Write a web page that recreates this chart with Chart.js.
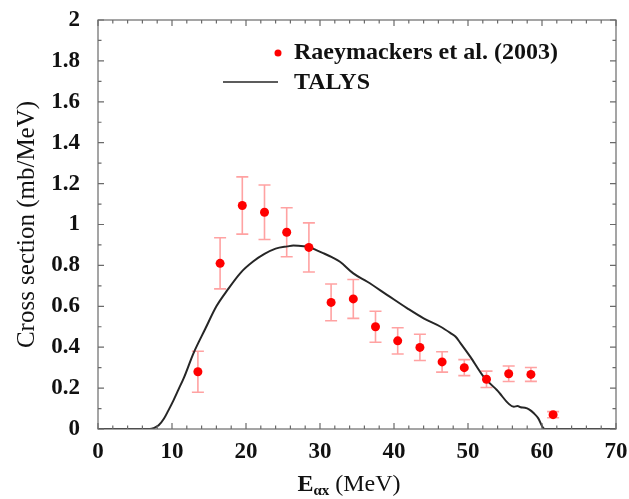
<!DOCTYPE html>
<html>
<head>
<meta charset="utf-8">
<script src="https://cdn.jsdelivr.net/npm/chart.js@4/dist/chart.umd.min.js"></script>
<style>
  html, body { margin: 0; padding: 0; background: #fff; }
  #wrap { width: 629px; height: 499px; position: relative; }
</style>
</head>
<body>
<div id="wrap"><canvas id="xsChart"></canvas></div>
<script>
// ── alpha emission spectrum: data vs TALYS ──

// measured points (Raeymackers et al. 2003)
const expE     = [13.5, 16.5, 19.5, 22.5, 25.5, 28.5, 31.5, 34.5, 37.5, 40.5, 43.5, 46.5, 49.5, 52.5, 55.5, 58.5, 61.5];
const expSigma = [0.28, 0.81, 1.093, 1.06, 0.962, 0.888, 0.619, 0.636, 0.50, 0.431, 0.399, 0.328, 0.30, 0.243, 0.27, 0.267, 0.07];
const expErr   = [0.10, 0.125, 0.14, 0.133, 0.12, 0.12, 0.09, 0.095, 0.076, 0.064, 0.064, 0.05, 0.039, 0.04, 0.038, 0.034, 0.015];

// TALYS calculation
const talysE     = [0, 7.0, 7.5, 8.2, 8.9, 9.5, 10.2, 10.9, 11.6, 12.9, 14.5, 16, 17.5, 19.3, 21, 22.5, 24, 25.6, 26.4, 27.8,
                    28.5, 29.5, 30.5, 31.6, 32.7, 34.5, 36.4, 39.1, 41.8, 44.0, 46.3, 47.6, 48.3, 49.0, 50.3, 52.1, 53.9,
                    56.2, 56.7, 57.1, 57.7, 58.3, 58.9, 59.5, 60.1, 60.4, 70];
const talysSigma = [0, 0, 0.004, 0.018, 0.05, 0.09, 0.14, 0.195, 0.25, 0.37, 0.49, 0.6, 0.68, 0.765, 0.82, 0.856, 0.882, 0.893, 0.897, 0.894,
                    0.89, 0.875, 0.859, 0.84, 0.818, 0.761, 0.72, 0.655, 0.59, 0.541, 0.50, 0.47, 0.452, 0.419, 0.354, 0.256, 0.191,
                    0.109, 0.112, 0.106, 0.104, 0.095, 0.077, 0.052, 0.008, 0, 0];

// tick labels
const xTickLabels = ['0', '10', '20', '30', '40', '50', '60', '70'];
const yTickLabels = ['0', '0.2', '0.4', '0.6', '0.8', '1', '1.2', '1.4', '1.6', '1.8', '2'];

const SERIF = "'Liberation Serif', 'Times New Roman', serif";
const RED   = '#ff0000';
const ERRC  = 'rgba(255, 70, 70, 0.5)';
const AXIS  = '#6a6a6a';

function xLabel(v) {
  const i = Math.round(v / 10);
  return Math.abs(v - i * 10) < 1e-6 ? xTickLabels[i] : '';
}
function yLabel(v) {
  const i = Math.round(v * 5);
  return Math.abs(v - i / 5) < 1e-6 ? yTickLabels[i] : '';
}

// ─── error bars (under the points) ───
const errorBars = {
  id: 'errorBars',
  beforeDatasetsDraw(chart) {
    const { ctx, scales: { x, y } } = chart;
    ctx.save();
    ctx.strokeStyle = ERRC;
    ctx.lineWidth = 1.6;
    expE.forEach((e, i) => {
      const px = x.getPixelForValue(e);
      const top = y.getPixelForValue(expSigma[i] + expErr[i]);
      const bot = y.getPixelForValue(expSigma[i] - expErr[i]);
      ctx.beginPath();
      ctx.moveTo(px, top); ctx.lineTo(px, bot);
      ctx.moveTo(px - 6, top); ctx.lineTo(px + 6, top);
      ctx.moveTo(px - 6, bot); ctx.lineTo(px + 6, bot);
      ctx.stroke();
    });
    ctx.restore();
  }
};

// ─── frame, inward ticks, legend, x title ───
const frame = {
  id: 'frame',
  afterDatasetsDraw(chart) {
    const { ctx, chartArea: a, scales: { x, y } } = chart;
    ctx.save();
    ctx.strokeStyle = AXIS;
    ctx.lineWidth = 1.2;
    ctx.strokeRect(a.left, a.top, a.right - a.left, a.bottom - a.top);
    ctx.beginPath();
    x.ticks.forEach(t => {
      const p = x.getPixelForValue(t.value);
      const L = xLabel(t.value) ? 6 : 3.5;
      ctx.moveTo(p, a.bottom); ctx.lineTo(p, a.bottom - L);
      ctx.moveTo(p, a.top);    ctx.lineTo(p, a.top + L);
    });
    y.ticks.forEach(t => {
      const p = y.getPixelForValue(t.value);
      const L = yLabel(t.value) ? 6 : 3.5;
      ctx.moveTo(a.left, p);  ctx.lineTo(a.left + L, p);
      ctx.moveTo(a.right, p); ctx.lineTo(a.right - L, p);
    });
    ctx.stroke();

    // legend inside the plot
    const [pts, talys] = chart.data.datasets;
    ctx.font = 'bold 24px ' + SERIF;
    ctx.textBaseline = 'middle';
    ctx.fillStyle = '#111';
    const lx = a.left + 196;
    ctx.fillText(pts.label, lx, a.top + 33);
    ctx.fillText(talys.label, lx, a.top + 63);
    ctx.beginPath();
    ctx.fillStyle = pts.backgroundColor;
    ctx.arc(lx - 16, a.top + 33, 3.5, 0, Math.PI * 2);
    ctx.fill();
    ctx.beginPath();
    ctx.strokeStyle = talys.borderColor;
    ctx.lineWidth = 1.6;
    ctx.moveTo(lx - 71, a.top + 62); ctx.lineTo(lx - 16, a.top + 62);
    ctx.stroke();

    // x title with subscript
    const cx = (a.left + a.right) / 2 - 8;
    const ty = 491;
    ctx.fillStyle = '#111';
    ctx.textBaseline = 'alphabetic';
    ctx.font = 'bold 24px ' + SERIF;
    const wE = ctx.measureText('E').width;
    ctx.font = 'bold 15px ' + SERIF;
    const wS = ctx.measureText('αx').width;
    ctx.font = '24px ' + SERIF;
    const wU = ctx.measureText(' (MeV)').width;
    let sx = cx - (wE + wS + wU) / 2;
    ctx.font = 'bold 24px ' + SERIF;
    ctx.fillText('E', sx, ty);
    sx += wE;
    ctx.font = 'bold 15px ' + SERIF;
    ctx.fillText('αx', sx, ty + 4);
    sx += wS;
    ctx.font = '24px ' + SERIF;
    ctx.fillText(' (MeV)', sx, ty);
    ctx.restore();
  }
};

const ctx = document.getElementById('xsChart').getContext('2d');
new Chart(ctx, {
  type: 'scatter',
  data: {
    datasets: [
      {
        label: 'Raeymackers et al. (2003)',
        data: expE.map((e, i) => ({ x: e, y: expSigma[i] })),
        backgroundColor: RED,
        borderColor: RED,
        borderWidth: 0,
        pointRadius: 4.5,
        order: 1,
      },
      {
        label: 'TALYS',
        data: talysE.map((e, i) => ({ x: e, y: talysSigma[i] })),
        showLine: true,
        borderColor: '#262626',
        borderWidth: 2,
        pointRadius: 0,
        cubicInterpolationMode: 'monotone',
        order: 2,
      },
    ]
  },
  options: {
    responsive: true,
    maintainAspectRatio: false,
    animation: false,
    layout: { padding: { left: 0, right: 13, top: 20, bottom: 0 } },
    plugins: { legend: { display: false }, tooltip: { enabled: false } },
    scales: {
      x: {
        type: 'linear', min: 0, max: 70,
        grid: { display: false, drawTicks: false },
        border: { display: false },
        ticks: {
          stepSize: 2, autoSkip: false, maxRotation: 0, padding: 9,
          color: '#111', font: { family: SERIF, size: 23, weight: 'bold' },
          callback: v => xLabel(v),
        },
        afterFit: s => { s.height = 70; s.paddingLeft = 0; s.paddingRight = 0; },
      },
      y: {
        min: 0, max: 2,
        grid: { display: false, drawTicks: false },
        border: { display: false },
        ticks: {
          stepSize: 0.1, autoSkip: false, padding: 18,
          color: '#111', font: { family: SERIF, size: 23, weight: 'bold' },
          callback: v => yLabel(v),
        },
        title: {
          display: true, text: 'Cross section (mb/MeV)', color: '#111',
          font: { family: SERIF, size: 25 }, padding: { top: 12, bottom: 0 },
        },
        afterFit: s => { s.width = 98; s.paddingTop = 0; s.paddingBottom = 0; },
      }
    }
  },
  plugins: [errorBars, frame],
});
</script>
</body>
</html>
